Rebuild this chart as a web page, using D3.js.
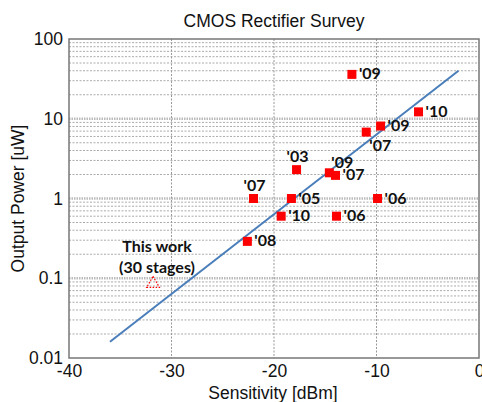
<!DOCTYPE html>
<html>
<head>
<meta charset="utf-8">
<script src="https://cdn.jsdelivr.net/npm/d3@7"></script>
<style>
  body { margin: 0; background: #fff; }
  text { font-family: "Liberation Sans", Arial, sans-serif; }
  .lbl { font-family: Lato, "Open Sans", sans-serif; font-weight: bold; font-size: 16px; fill: #111; }
</style>
</head>
<body>
<svg width="482" height="402"></svg>
<script>
// survey points: sensitivity [dBm], output power [uW], year label
var sens = [-12.4, -5.9, -9.6, -11.0, -17.8, -14.6, -14.0, -22.0, -18.3, -9.9, -19.3, -13.9, -22.6];
var power = [36, 12.2, 8.1, 6.8, 2.3, 2.1, 1.95, 1.0, 1.0, 1.0, 0.6, 0.6, 0.29];
var years = ["'09", "'10", "'09", "'07", "'03", "'09", "'07", "'07", "'05", "'06", "'10", "'06", "'08"];

// this work
var thisSens = [-31.8];
var thisPower = [0.088];

// trend line end points
var lineSens = [-36, -2];
var linePower = [0.016, 40];

var xTicks = [-40, -30, -20, -10, 0];
var yTicks = [0.01, 0.1, 1, 10, 100];

var svg = d3.select("svg");
var pLeft = 69, pRight = 479, pTop = 39, pBottom = 358;

var x = d3.scaleLinear().domain([-40, 0]).range([pLeft, pRight]);
var y = d3.scaleLog().domain([0.01, 100]).range([pBottom, pTop]);

// grid
var minor = [];
for (var e = -2; e < 2; e++) {
  for (var k = 2; k < 10; k++) minor.push(k * Math.pow(10, e));
}
svg.append("g")
  .selectAll("line")
  .data(minor)
  .enter()
  .append("line")
  .attr("x1", pLeft).attr("x2", pRight)
  .attr("y1", (d) => y(d)).attr("y2", (d) => y(d))
  .attr("stroke", "#aaa")
  .attr("stroke-dasharray", "2,1.5");

svg.append("g")
  .selectAll("line")
  .data(yTicks.slice(1, -1))
  .enter()
  .append("line")
  .attr("x1", pLeft).attr("x2", pRight)
  .attr("y1", (d) => y(d)).attr("y2", (d) => y(d))
  .attr("stroke", "#bbb")
  .attr("stroke-width", 2.5)
  .attr("stroke-dasharray", "1.5,1");

svg.append("g")
  .selectAll("line")
  .data(xTicks.slice(1, -1))
  .enter()
  .append("line")
  .attr("x1", (d) => x(d)).attr("x2", (d) => x(d))
  .attr("y1", pTop).attr("y2", pBottom)
  .attr("stroke", "#999")
  .attr("stroke-dasharray", "2,1.5");

// axes
var xAxis = svg.append("g")
  .attr("transform", "translate(0," + pBottom + ")")
  .call(d3.axisBottom(x).tickValues(xTicks).tickSize(0).tickPadding(7)
    .tickFormat((d) => String(d)));
var yAxis = svg.append("g")
  .attr("transform", "translate(" + pLeft + ",0)")
  .call(d3.axisLeft(y).tickValues(yTicks).tickSize(0).tickPadding(6)
    .tickFormat((d) => String(d)));
[xAxis, yAxis].forEach(function (g) {
  g.select(".domain").remove();
  g.selectAll("text").attr("font-size", 17.5).attr("fill", "#111")
    .style("font-family", "'Liberation Sans', Arial, sans-serif");
});

svg.append("rect")
  .attr("x", pLeft).attr("y", pTop)
  .attr("width", pRight - pLeft).attr("height", pBottom - pTop)
  .attr("fill", "none")
  .attr("stroke", "#777")
  .attr("stroke-width", 1.5);

// trend line
svg.append("path")
  .datum(d3.zip(lineSens, linePower))
  .attr("fill", "none")
  .attr("stroke", "#4a7ebb")
  .attr("stroke-width", 2)
  .attr("d", d3.line().x((d) => x(d[0])).y((d) => y(d[1])));

// survey markers
var pts = d3.zip(sens, power, years);
svg.append("g")
  .selectAll("rect")
  .data(pts)
  .enter()
  .append("rect")
  .attr("x", (d) => x(d[0]) - 4.5)
  .attr("y", (d) => y(d[1]) - 4.5)
  .attr("width", 9).attr("height", 9)
  .attr("fill", "#f00");

// label placement: r = right, a = above, b = below-right, ar = above-right
var place = ["r", "r", "r", "b", "a", "ar", "r", "a", "r", "r", "r", "r", "r"];
svg.append("g")
  .selectAll("text")
  .data(pts)
  .enter()
  .append("text")
  .attr("class", "lbl")
  .attr("x", (d, i) => {
    var p = place[i];
    if (p == "a") return x(d[0]) - 10;
    if (p == "b") return x(d[0]) + 3;
    if (p == "ar") return x(d[0]) + 2;
    return x(d[0]) + 7;
  })
  .attr("y", (d, i) => {
    var p = place[i];
    if (p == "a") return y(d[1]) - 8;
    if (p == "b") return y(d[1]) + 19;
    if (p == "ar") return y(d[1]) - 5;
    return y(d[1]) + 5;
  })
  .text((d) => d[2]);

// this work
var tx = x(thisSens[0]), ty = y(thisPower[0]);
svg.append("path")
  .attr("d", d3.symbol().type(d3.symbolTriangle).size(70)())
  .attr("transform", "translate(" + tx + "," + (ty + 1) + ")")
  .attr("fill", "none")
  .attr("stroke", "#f00")
  .attr("stroke-width", 1.2)
  .attr("stroke-dasharray", "1.5,1.5");
svg.append("text").attr("class", "lbl")
  .attr("x", tx + 4).attr("y", ty - 31)
  .attr("text-anchor", "middle")
  .text("This work");
svg.append("text").attr("class", "lbl")
  .attr("x", tx + 4).attr("y", ty - 10)
  .attr("text-anchor", "middle")
  .text("(30 stages)");

// titles
svg.append("text")
  .attr("x", 274).attr("y", 27)
  .attr("text-anchor", "middle")
  .attr("font-size", 17.5)
  .attr("fill", "#111")
  .text("CMOS Rectifier Survey");
svg.append("text")
  .attr("x", 273).attr("y", 399)
  .attr("text-anchor", "middle")
  .attr("font-size", 17.5)
  .attr("fill", "#111")
  .text("Sensitivity [dBm]");
svg.append("text")
  .attr("transform", "translate(24," + (pTop + pBottom) / 2 + ") rotate(-90)")
  .attr("text-anchor", "middle")
  .attr("font-size", 17.5)
  .attr("fill", "#111")
  .text("Output Power [uW]");
</script>
</body>
</html>
